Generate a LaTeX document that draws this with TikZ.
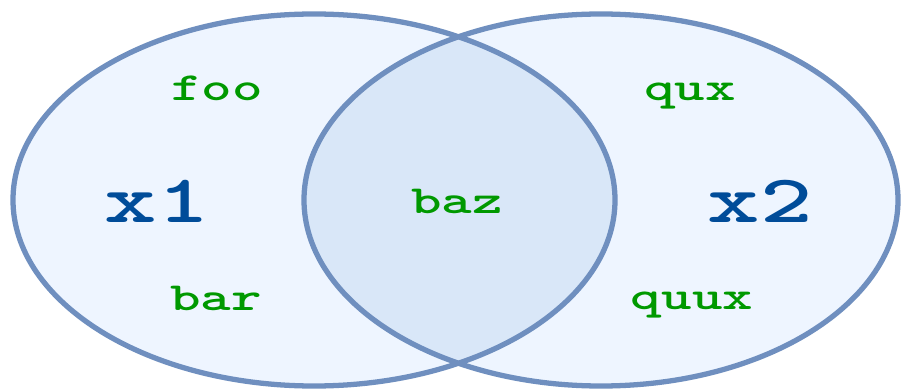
\documentclass[tikz,border=0pt]{standalone}
\usepackage{graphicx}
\definecolor{setedge}{RGB}{111,143,191}
\definecolor{setfill}{RGB}{238,245,255}
\definecolor{bothfill}{RGB}{217,231,248}
\definecolor{itemgreen}{RGB}{0,153,0}
\definecolor{setblue}{RGB}{0,76,153}

\begin{document}
\begin{tikzpicture}[x=0.03cm,y=0.03cm,
    item/.style={anchor=base,inner sep=0pt,text=itemgreen,
      font=\ttfamily\bfseries\fontsize{34}{34}\selectfont},
    setname/.style={anchor=base,inner sep=0pt,text=setblue,
      font=\ttfamily\bfseries\fontsize{58}{58}\selectfont}]

\useasboundingbox (0,0) rectangle (902,388);

% The two sets
\fill[setfill] (314,188) ellipse [x radius=301,y radius=186];
\fill[setfill] (601,188) ellipse [x radius=297,y radius=186];
\begin{scope}
  \clip (314,188) ellipse [x radius=301,y radius=186];
  \fill[bothfill] (601,188) ellipse [x radius=297,y radius=186];
\end{scope}
\draw[setedge,line width=4.5pt] (314,188) ellipse [x radius=301,y radius=186];
\draw[setedge,line width=4.5pt] (601,188) ellipse [x radius=297,y radius=186];

% Set names
\node[setname] (x1) at (157,166) {\scalebox{1.47}[1]{x1}};
\node[setname] (x2) at (760,166) {\scalebox{1.47}[1]{x2}};

% Members
\node[item] (foo) at (217,287) {\scalebox{1.46}[1]{foo}};
\node[item] (bar) at (216,78) {\scalebox{1.46}[1]{bar}};
\node[item] (baz) at (457,175) {\scalebox{1.46}[1]{baz}};
\node[item] (qux) at (690,287) {\scalebox{1.46}[1]{qux}};
\node[item] (quux) at (692,79) {\scalebox{1.46}[1]{quux}};

\end{tikzpicture}
\end{document}
